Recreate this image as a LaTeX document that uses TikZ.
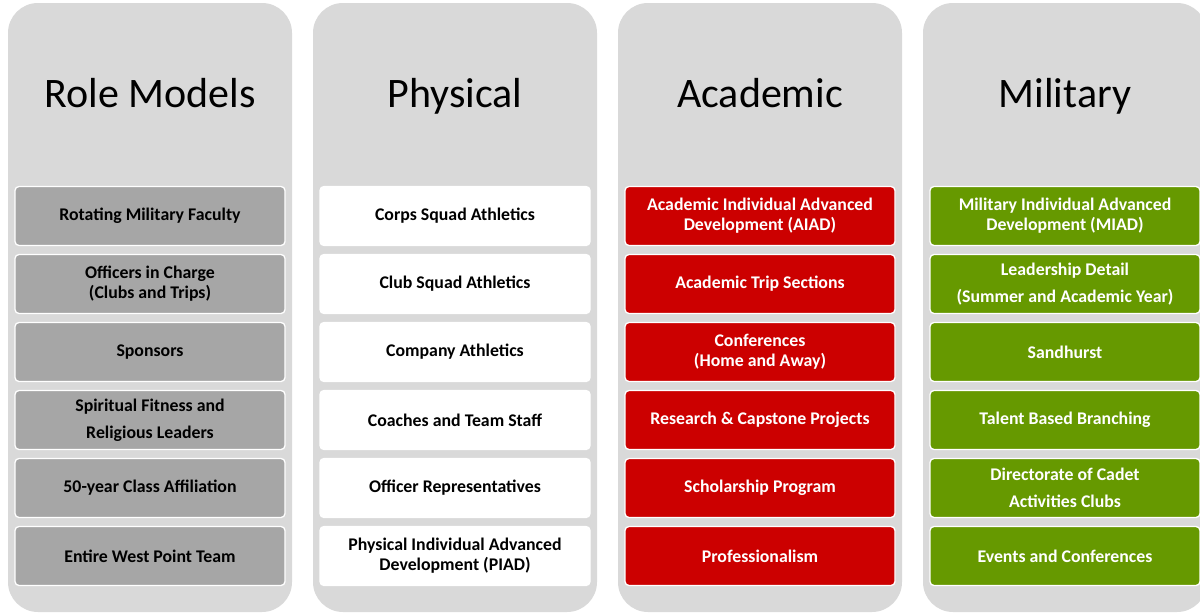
\documentclass[tikz,border=0pt]{standalone}
\usepackage{fontspec}
\setmainfont{Carlito}
\definecolor{panelgray}{HTML}{D9D9D9}
\definecolor{boxgray}{HTML}{A6A6A6}
\definecolor{boxred}{HTML}{CC0000}
\definecolor{boxgreen}{HTML}{669900}
\tikzset{
  panel/.style={fill=panelgray, draw=none, rounded corners=30pt},
  title/.style={font=\fontsize{42}{48}\selectfont, text=black, anchor=base},
  item/.style={rounded corners=4pt, draw=white, line width=1.3pt, minimum width=270pt, minimum height=59pt, align=center, inner sep=0pt, font=\fontsize{17.8}{20}\selectfont\bfseries},
  rolebox/.style={item, fill=boxgray, text=black},
  physbox/.style={item, fill=white, text=black},
  acadbox/.style={item, fill=boxred, text=white},
  milbox/.style={item, fill=boxgreen, text=white}
}
\begin{document}
\begin{tikzpicture}[x=1pt,y=1pt]
\useasboundingbox (0,0) rectangle (1200,-613);
\clip (0,0) rectangle (1200,-613);
\fill[white] (0,0) rectangle (1200,-613);
% panels
\path[panel] (8,-3) rectangle (292,-612);
\path[panel] (313,-3) rectangle (597,-612);
\path[panel] (618,-3) rectangle (902,-612);
\path[panel] (923,-3) rectangle (1207,-612);
% titles
\node[title] (t1) at (150,-107) {Role Models};
\node[title] (t2) at (455,-107) {Physical};
\node[title] (t3) at (760,-107) {Academic};
\node[title] (t4) at (1065,-107) {Military};
% Role Models
\node[rolebox] (r1) at (150,-216) {Rotating Military Faculty};
\node[rolebox] (r2) at (150,-284) {Officers in Charge\\(Clubs and Trips)};
\node[rolebox] (r3) at (150,-352) {Sponsors};
\node[rolebox] (r4) at (150,-420) {Spiritual Fitness and\\[7pt]Religious Leaders};
\node[rolebox] (r5) at (150,-488) {50-year Class Affiliation};
\node[rolebox] (r6) at (150,-556) {Entire West Point Team};
% Physical
\node[physbox] (p1) at (455,-216) {Corps Squad Athletics};
\node[physbox] (p2) at (455,-284) {Club Squad Athletics};
\node[physbox] (p3) at (455,-352) {Company Athletics};
\node[physbox] (p4) at (455,-420) {Coaches and Team Staff};
\node[physbox] (p5) at (455,-488) {Officer Representatives};
\node[physbox] (p6) at (455,-556) {Physical Individual Advanced\\Development (PIAD)};
% Academic
\node[acadbox] (a1) at (760,-216) {Academic Individual Advanced\\Development (AIAD)};
\node[acadbox] (a2) at (760,-284) {Academic Trip Sections};
\node[acadbox] (a3) at (760,-352) {Conferences\\(Home and Away)};
\node[acadbox] (a4) at (760,-420) {Research \& Capstone Projects};
\node[acadbox] (a5) at (760,-488) {Scholarship Program};
\node[acadbox] (a6) at (760,-556) {Professionalism};
% Military
\node[milbox] (m1) at (1065,-216) {Military Individual Advanced\\Development (MIAD)};
\node[milbox] (m2) at (1065,-284) {Leadership Detail\\[7pt](Summer and Academic Year)};
\node[milbox] (m3) at (1065,-352) {Sandhurst};
\node[milbox] (m4) at (1065,-420) {Talent Based Branching};
\node[milbox] (m5) at (1065,-488) {Directorate of Cadet\\[7pt]Activities Clubs};
\node[milbox] (m6) at (1065,-556) {Events and Conferences};
\end{tikzpicture}
\end{document}
